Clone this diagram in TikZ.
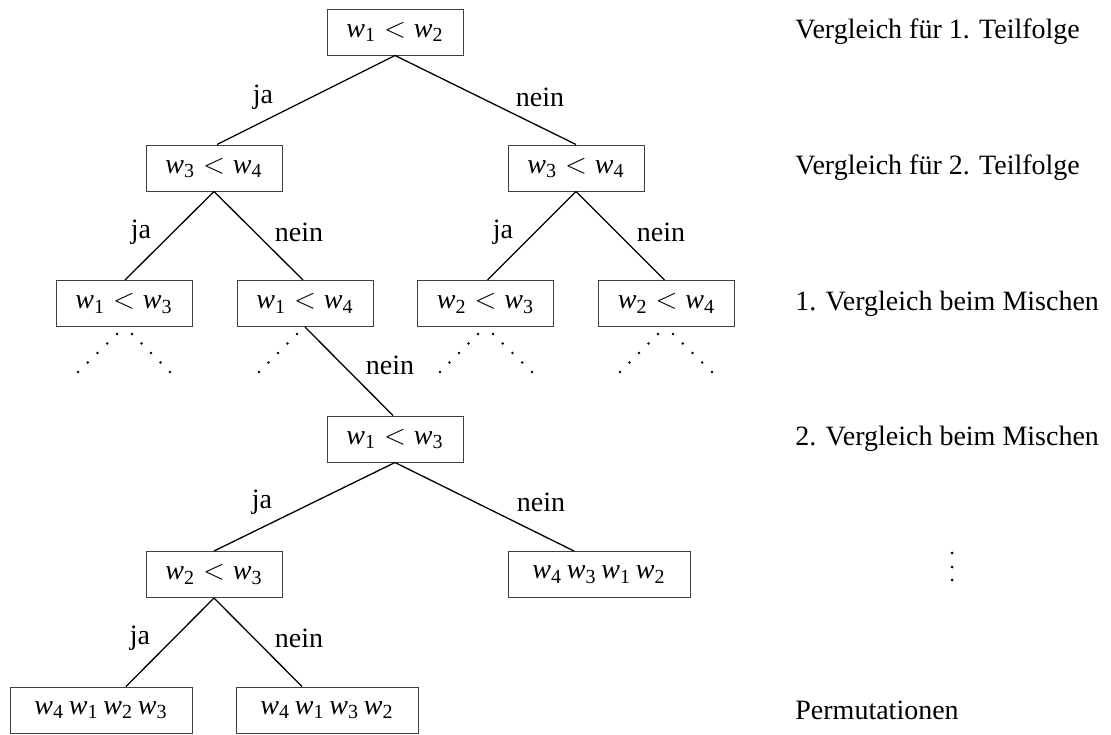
\documentclass[tikz,border=0pt]{standalone}
\usepackage{fontspec}
\usetikzlibrary{calc}
\setmainfont{Liberation Serif}
\newcommand\wv[1]{\mbox{\itshape w}_{\mbox{\fontsize{10}{12}\selectfont #1}}}
\begin{document}
\begin{tikzpicture}[x=0.5pt,y=-0.5pt,
  every node/.style={font=\fontsize{14}{17}\selectfont},
  cmp/.style={draw=black!75,line width=0.5pt,minimum width=68pt,minimum height=23pt,inner sep=0pt},
  perm/.style={cmp,minimum width=91pt},
  edge/.style={line width=0.65pt},
  lab/.style={inner sep=0pt},
  side/.style={anchor=west,inner sep=0pt},
  vdot/.style={fill=black,draw=none,circle,inner sep=0pt,minimum size=1.5pt}]
\useasboundingbox (0,0) rectangle (1111,734);
% nodes
\node[cmp] (a) at (395,32) {$\wv1 < \wv2$};
\node[cmp] (b) at (214,168) {$\wv3 < \wv4$};
\node[cmp] (c) at (576,168) {$\wv3 < \wv4$};
\node[cmp] (d) at (124,303.5) {$\wv1 < \wv3$};
\node[cmp] (e) at (305,303.5) {$\wv1 < \wv4$};
\node[cmp] (f) at (485.5,303.5) {$\wv2 < \wv3$};
\node[cmp] (g) at (666.5,303.5) {$\wv2 < \wv4$};
\node[cmp] (h) at (395,439) {$\wv1 < \wv3$};
\node[cmp] (i) at (214,574.5) {$\wv2 < \wv3$};
\node[perm] (j) at (599,574.5) {$\wv4\,\wv3\,\wv1\,\wv2$};
\node[perm] (k) at (101,710) {$\wv4\,\wv1\,\wv2\,\wv3$};
\node[perm] (l) at (327,710) {$\wv4\,\wv1\,\wv3\,\wv2$};
% connectors
\draw[edge] (a.south) -- ([xshift=1.5]b.north);
\draw[edge] (a.south) -- (c.north);
\draw[edge] (b.south) -- ([xshift=0.5]d.north);
\draw[edge] (b.south) -- ([xshift=-1]e.north);
\draw[edge] (c.south) -- ([xshift=1]f.north);
\draw[edge] (c.south) -- ([xshift=-1]g.north);
\draw[edge] (e.south) -- ([xshift=-1]h.north);
\draw[edge] (h.south) -- (i.north);
\draw[edge] (h.south) -- ([xshift=-12.5]j.north);
\draw[edge] (i.south) -- ([xshift=12.5]k.north);
\draw[edge] (i.south) -- ([xshift=-12.5]l.north);
% edge labels
\node[lab] (la) at (263,97) {ja};
\node[lab] (lb) at (540,97) {nein};
\node[lab] (lc) at (141,232) {ja};
\node[lab] (ld) at (299,232) {nein};
\node[lab] (le) at (503,232) {ja};
\node[lab] (lf) at (661,232) {nein};
\node[lab] (lg) at (390,365) {nein};
\node[lab] (lh) at (262,502) {ja};
\node[lab] (li) at (541,502) {nein};
\node[lab] (lj) at (140,638) {ja};
\node[lab] (lk) at (299,638) {nein};
% dotted continuations
\coordinate (d0) at (117,334); \coordinate (d1) at (78,372);
\coordinate (d3) at (132,334); \coordinate (d2) at (170,372);
\coordinate (e0) at (297,334); \coordinate (e1) at (259,372);
\coordinate (f0) at (478,334); \coordinate (f1) at (440,372);
\coordinate (f3) at (493,334); \coordinate (f2) at (532,372);
\coordinate (g0) at (658,334); \coordinate (g1) at (620,372);
\coordinate (g3) at (673,334); \coordinate (g2) at (712,372);
\foreach \p/\q in {d0/d1,d3/d2,e0/e1,f0/f1,f3/f2,g0/g1,g3/g2}{
  \foreach \t in {0,0.25,0.5,0.75,1}{
    \fill ($(\p)!\t!(\q)$) circle[radius=0.65pt];
  }
}
% side descriptions
\node[side] (s1) at (795,32) {Vergleich für 1. Teilfolge};
\node[side] (s2) at (795,168) {Vergleich für 2. Teilfolge};
\node[side] (s3) at (795,303.5) {1. Vergleich beim Mischen};
\node[side] (s4) at (795,439) {2. Vergleich beim Mischen};
\node[vdot] (v1) at (952,553) {};
\node[vdot] (v2) at (952,567) {};
\node[vdot] (v3) at (952,580) {};
\node[side] (s6) at (795,710) {Permutationen};
\end{tikzpicture}
\end{document}
